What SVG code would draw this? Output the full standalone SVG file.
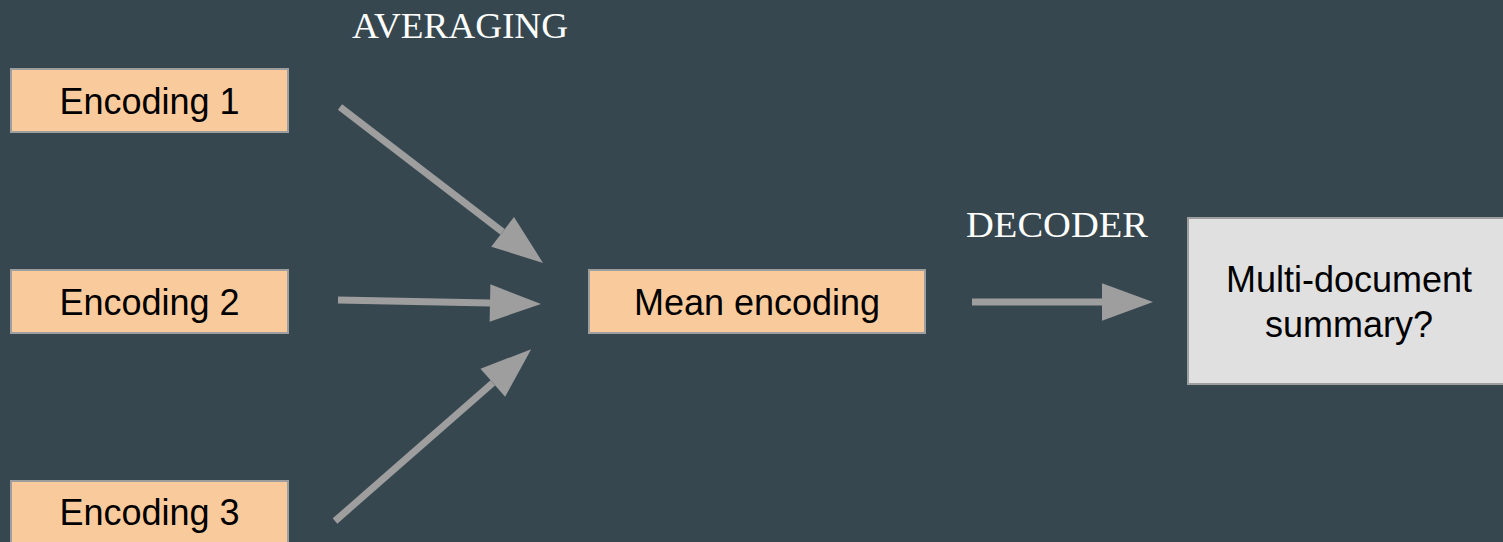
<svg xmlns="http://www.w3.org/2000/svg" width="1503" height="542" viewBox="0 0 1503 542">
  <style>
    .enc { fill: #f9cb9c; stroke: #9e9e9e; stroke-width: 2; }
    .out { fill: #e0e0e0; stroke: #9e9e9e; stroke-width: 2; }
    .lbl { font-family: "Liberation Sans", Arial, sans-serif; font-size: 36px; fill: #000000; text-anchor: middle; }
    .cap { font-family: "Liberation Serif", "Times New Roman", serif; font-size: 36px; fill: #ffffff; }
    .link { stroke: #9e9e9e; stroke-width: 7; fill: none; marker-end: url(#head); }
  </style>
  <defs>
    <!-- filled triangular arrowhead; the line ends at its base -->
    <marker id="head" markerUnits="userSpaceOnUse" markerWidth="52" markerHeight="38" refX="0" refY="18.7" orient="auto" overflow="visible">
      <path d="M0,0 L51,18.7 L0,37.4 Z" fill="#9e9e9e"/>
    </marker>
  </defs>

  <rect width="1503" height="542" fill="#37474f"/>

  <g id="connectors">
    <line class="link" x1="340" y1="107" x2="502.6" y2="231.9"/>
    <line class="link" x1="338" y1="300" x2="490" y2="303"/>
    <line class="link" x1="335" y1="521" x2="492.8" y2="382.8"/>
    <line class="link" x1="972" y1="302" x2="1102" y2="302"/>
  </g>

  <g id="label-averaging">
    <text class="cap" x="352" y="38" textLength="216" lengthAdjust="spacingAndGlyphs">AVERAGING</text>
  </g>
  <g id="label-decoder">
    <text class="cap" x="966" y="237" textLength="182" lengthAdjust="spacingAndGlyphs">DECODER</text>
  </g>

  <g id="encoding-1">
    <rect class="enc" x="11" y="69" width="277" height="63"/>
    <text class="lbl" x="149.5" y="114">Encoding 1</text>
  </g>
  <g id="encoding-2">
    <rect class="enc" x="11" y="270" width="277" height="63"/>
    <text class="lbl" x="149.5" y="315">Encoding 2</text>
  </g>
  <g id="encoding-3">
    <rect class="enc" x="11" y="481" width="277" height="63"/>
    <text class="lbl" x="149.5" y="525">Encoding 3</text>
  </g>
  <g id="mean-encoding">
    <rect class="enc" x="589" y="270" width="336" height="63"/>
    <text class="lbl" x="757" y="315">Mean encoding</text>
  </g>
  <g id="summary">
    <rect class="out" x="1188" y="218" width="322" height="166"/>
    <text class="lbl" x="1349" y="292">Multi-document</text>
    <text class="lbl" x="1349" y="337">summary?</text>
  </g>
</svg>
